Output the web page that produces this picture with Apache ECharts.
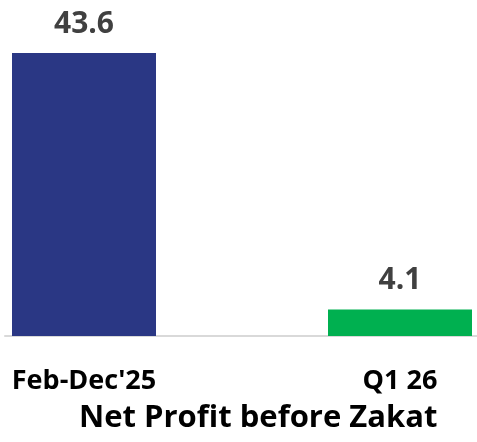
<!DOCTYPE html>
<html>
<head>
<meta charset="utf-8">
<script src="https://cdn.jsdelivr.net/npm/echarts@6/dist/echarts.min.js"></script>
<style>
	html, body { margin: 0; padding: 0; background: #fff; }
	#profitChart { width: 477px; height: 442px; }
</style>
</head>
<body>
<div id="profitChart"></div>
<script>
var categories = ["Feb-Dec'25", 'Q1 26'];
var profitValues = [43.6, 4.1];
var barColors = ['#2A3784', '#00B050'];
var chartTitle = 'Net Profit before Zakat';

// 基于准备好的dom，初始化echarts图表
var myChart = echarts.init(document.getElementById('profitChart'));
var option = {
	animation: false,
	textStyle: { fontFamily: 'Open Sans' },
	title: {
		text: chartTitle,
		left: 74,
		top: 398,
		textStyle: { fontFamily: 'Open Sans', fontWeight: 'bold', fontSize: 31, color: '#000' }
	},
	grid: [
		{ left: -74, right: -81, top: 44, bottom: 106, outerBoundsMode: 'none' },
		{ left: 5, right: 0, top: 44, bottom: 106 }
	],
	xAxis: [
		{
			type: 'category',
			gridIndex: 0,
			data: categories,
			axisLine: { show: false },
			axisTick: { show: false },
			axisLabel: {
				margin: 32,
				fontFamily: 'Open Sans',
				fontWeight: 'bold',
				fontSize: 27,
				color: '#000'
			}
		},
		{
			type: 'category',
			gridIndex: 1,
			data: [''],
			axisLine: { show: true, lineStyle: { color: '#D9D9D9', width: 2 } },
			axisTick: { show: false },
			axisLabel: { show: false }
		}
	],
	yAxis: [
		{ type: 'value', gridIndex: 0, min: 0, max: 45, show: false },
		{ type: 'value', gridIndex: 1, min: 0, max: 45, show: false }
	],
	series: [
		{
			type: 'bar',
			xAxisIndex: 0,
			yAxisIndex: 0,
			barWidth: 144,
			data: profitValues.map(function(v, i) {
				return { value: v, itemStyle: { color: barColors[i] } };
			}),
			label: {
				show: true,
				position: 'top',
				distance: 14,
				fontFamily: 'Open Sans',
				fontWeight: 'bold',
				fontSize: 30,
				color: '#404040',
				formatter: function(p) { return p.value.toFixed(1); }
			}
		}
	]
};
// 为echarts对象加载数据
myChart.setOption(option);
</script>
</body>
</html>
